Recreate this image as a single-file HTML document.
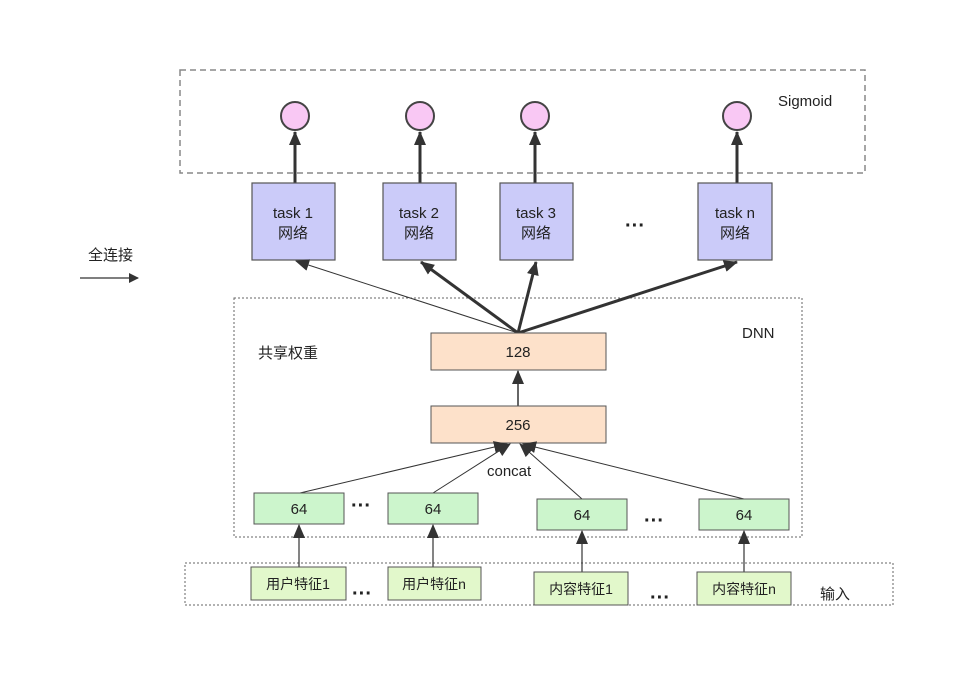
<!DOCTYPE html>
<html><head><meta charset="utf-8"><style>
body{margin:0;background:#fff;}
text{font-family:"Liberation Sans","Noto Sans CJK SC",sans-serif;fill:#222;}
</style></head><body>
<svg width="964" height="687" xmlns="http://www.w3.org/2000/svg">
<defs>
<marker id="a" markerWidth="10" markerHeight="10" refX="9" refY="5" orient="auto" markerUnits="userSpaceOnUse"><path d="M0,0 L10,5 L0,10 z" fill="#333"/></marker>
<marker id="b" markerWidth="14" markerHeight="12" refX="13" refY="6" orient="auto" markerUnits="userSpaceOnUse"><path d="M0,0 L14,6 L0,12 z" fill="#333"/></marker>
</defs>
<rect x="180" y="70" width="685" height="103" fill="none" stroke="#888" stroke-width="1.5" stroke-dasharray="6,4"/>
<text x="778" y="106" font-size="15">Sigmoid</text>
<g fill="#f9c8f4" stroke="#444" stroke-width="2">
<circle cx="295" cy="116" r="14"/><circle cx="420" cy="116" r="14"/><circle cx="535" cy="116" r="14"/><circle cx="737" cy="116" r="14"/>
</g>
<g stroke="#333" stroke-width="3" marker-end="url(#b)">
<line x1="295" y1="183" x2="295" y2="132"/><line x1="420" y1="183" x2="420" y2="132"/><line x1="535" y1="183" x2="535" y2="132"/><line x1="737" y1="183" x2="737" y2="132"/>
</g>
<g fill="#cbcbf9" stroke="#555" stroke-width="1.2">
<rect x="252" y="183" width="83" height="77"/><rect x="383" y="183" width="73" height="77"/><rect x="500" y="183" width="73" height="77"/><rect x="698" y="183" width="74" height="77"/>
</g>
<g font-size="15" text-anchor="middle">
<text x="293" y="218">task 1</text><text x="293" y="238">网络</text>
<text x="419" y="218">task 2</text><text x="419" y="238">网络</text>
<text x="536" y="218">task 3</text><text x="536" y="238">网络</text>
<text x="735" y="218">task n</text><text x="735" y="238">网络</text>
</g>
<g font-size="20" font-weight="bold" text-anchor="middle">
<text x="635" y="232">···</text>
<text x="361" y="512">···</text><text x="654" y="527">···</text><text x="362" y="600">···</text><text x="660" y="604">···</text>
</g>
<text x="88" y="260" font-size="15">全连接</text>
<line x1="80" y1="278" x2="138" y2="278" stroke="#333" stroke-width="1.2" marker-end="url(#a)"/>
<rect x="234" y="298" width="568" height="239" fill="none" stroke="#666" stroke-width="1" stroke-dasharray="2,2"/>
<text x="742" y="338" font-size="15">DNN</text>
<text x="258" y="358" font-size="15">共享权重</text>
<line x1="518" y1="333" x2="296" y2="261" stroke="#333" stroke-width="1" marker-end="url(#b)"/>
<g stroke="#333" stroke-width="3" marker-end="url(#b)">
<line x1="518" y1="333" x2="421" y2="262"/><line x1="518" y1="333" x2="536" y2="262"/><line x1="518" y1="333" x2="737" y2="262"/>
</g>
<rect x="431" y="333" width="175" height="37" fill="#fde1ca" stroke="#555"/>
<text x="518" y="357" font-size="15" text-anchor="middle">128</text>
<line x1="518" y1="406" x2="518" y2="371" stroke="#333" stroke-width="1.5" marker-end="url(#b)"/>
<rect x="431" y="406" width="175" height="37" fill="#fde1ca" stroke="#555"/>
<text x="518" y="430" font-size="15" text-anchor="middle">256</text>
<g stroke="#333" stroke-width="1" marker-end="url(#b)">
<line x1="300" y1="493" x2="507" y2="444"/><line x1="433" y1="493" x2="510" y2="444"/><line x1="582" y1="499" x2="520" y2="444"/><line x1="744" y1="499" x2="523" y2="444"/>
</g>
<text x="487" y="476" font-size="15">concat</text>
<g fill="#ccf5cc" stroke="#555">
<rect x="254" y="493" width="90" height="31"/><rect x="388" y="493" width="90" height="31"/><rect x="537" y="499" width="90" height="31"/><rect x="699" y="499" width="90" height="31"/>
</g>
<g font-size="15" text-anchor="middle">
<text x="299" y="514">64</text><text x="433" y="514">64</text><text x="582" y="520">64</text><text x="744" y="520">64</text>
</g>
<rect x="185" y="563" width="708" height="42" fill="none" stroke="#666" stroke-width="1" stroke-dasharray="2,2"/>
<g stroke="#333" stroke-width="1.2" marker-end="url(#b)">
<line x1="299" y1="567" x2="299" y2="525"/><line x1="433" y1="567" x2="433" y2="525"/><line x1="582" y1="572" x2="582" y2="531"/><line x1="744" y1="572" x2="744" y2="531"/>
</g>
<g fill="#e2f8cb" stroke="#555">
<rect x="251" y="567" width="95" height="33"/><rect x="388" y="567" width="93" height="33"/><rect x="534" y="572" width="94" height="33"/><rect x="697" y="572" width="94" height="33"/>
</g>
<g font-size="14" text-anchor="middle">
<text x="298" y="589">用户特征1</text><text x="434" y="589">用户特征n</text><text x="581" y="594">内容特征1</text><text x="744" y="594">内容特征n</text>
</g>
<text x="820" y="599" font-size="15">输入</text>
</svg>
</body></html>
